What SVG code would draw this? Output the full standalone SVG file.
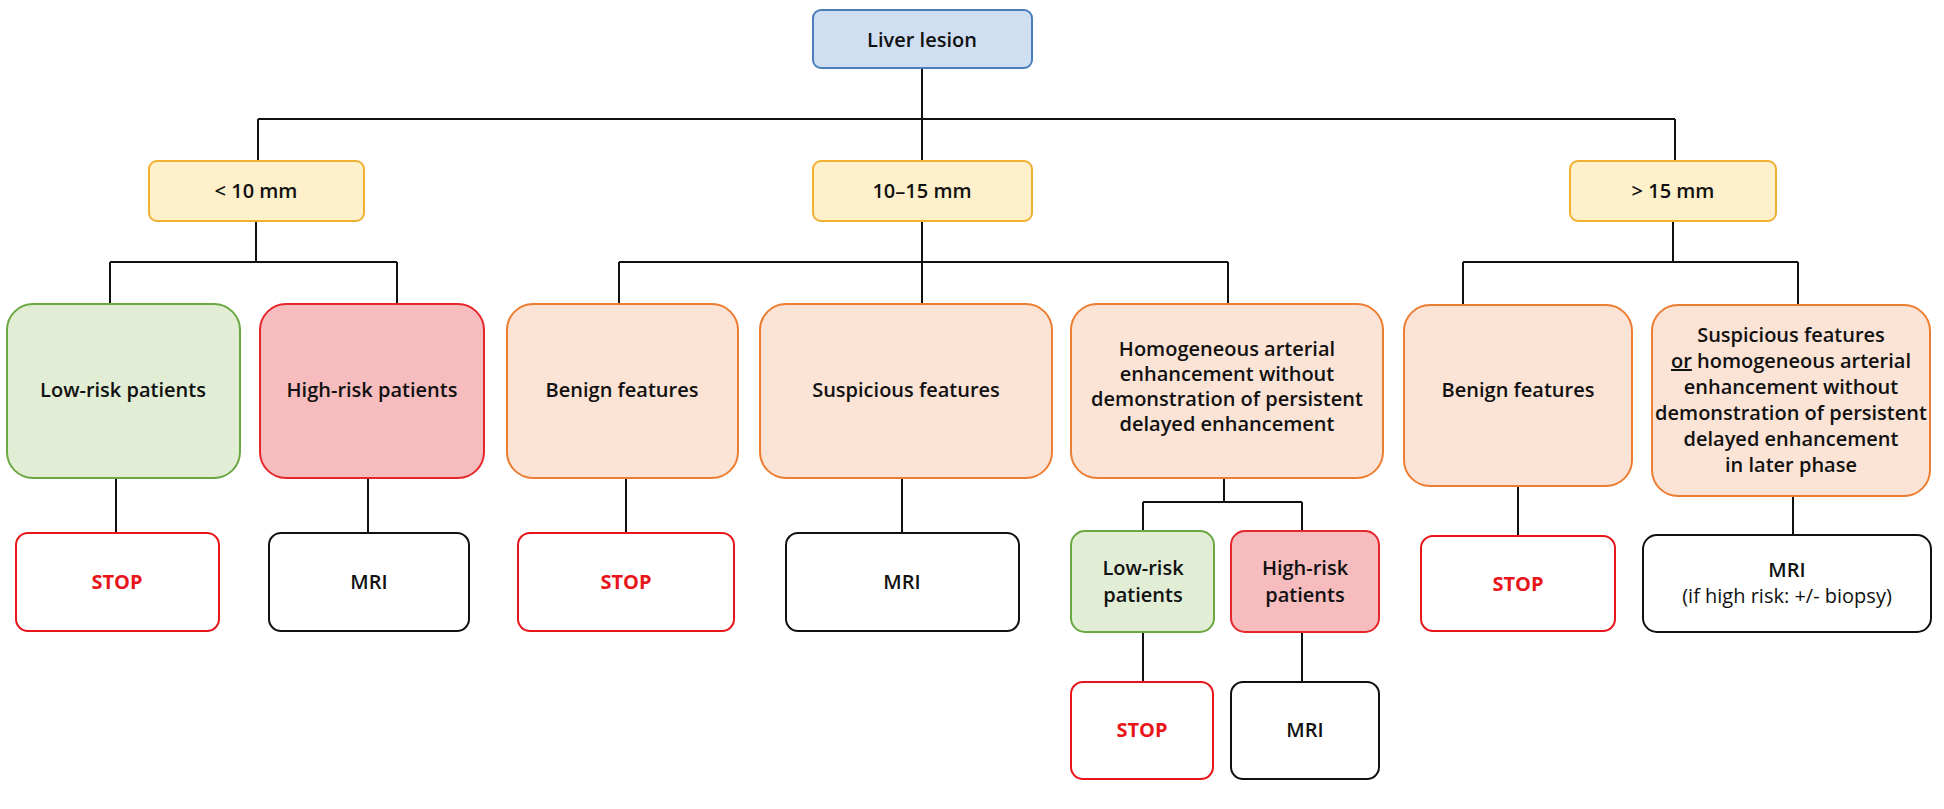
<svg xmlns="http://www.w3.org/2000/svg" width="1944" height="809" viewBox="0 0 1944 809">
<style>
text{font-family:"Open Sans","Liberation Sans",sans-serif;font-weight:600;font-size:20px;fill:#111;text-anchor:middle}
.blue{fill:#cfdff1;stroke:#4a7ebb;stroke-width:2}
.yel{fill:#fdf0cb;stroke:#f0b030;stroke-width:2}
.grn{fill:#e1edd5;stroke:#6aa842;stroke-width:2}
.red{fill:#f7bcbd;stroke:#e5262b;stroke-width:2}
.org{fill:#fbe4d6;stroke:#ed7d31;stroke-width:2}
.stop{fill:#fff;stroke:#e8151b;stroke-width:2}
.mri{fill:#fff;stroke:#111;stroke-width:2}
.st{fill:#e8151b;font-weight:700}
#c path{fill:none;stroke:#111;stroke-width:2}
</style>
<g id="c">
<path d="M922 68V161M258 119H1675M258 119V161M1675 119V161"/>
<path d="M256 221V262M110 262H397M110 262V304M397 262V304"/>
<path d="M922 221V304M619 262H1228M619 262V304M1228 262V304"/>
<path d="M1673 221V262M1463 262H1798M1463 262V305M1798 262V305"/>
<path d="M116 478V533M368 478V533M626 478V533M902 478V533"/>
<path d="M1224 478V502M1143 502H1302M1143 502V531M1302 502V531M1143 632V682M1302 632V682"/>
<path d="M1518 486V536M1793 496V535"/>
</g>
<g id="n0"><rect class="blue" x="813" y="10" width="219" height="58" rx="8"/><text x="922" y="47">Liver lesion</text></g>
<g id="n1"><rect class="yel" x="149" y="161" width="215" height="60" rx="8"/><text x="256" y="198">&lt; 10 mm</text></g>
<g id="n2"><rect class="yel" x="813" y="161" width="219" height="60" rx="8"/><text x="922" y="198">10–15 mm</text></g>
<g id="n3"><rect class="yel" x="1570" y="161" width="206" height="60" rx="8"/><text x="1673" y="198">&gt; 15 mm</text></g>
<g id="n4"><rect class="grn" x="7" y="304" width="233" height="174" rx="26"/><text x="123" y="397">Low-risk patients</text></g>
<g id="n5"><rect class="red" x="260" y="304" width="224" height="174" rx="26"/><text x="372" y="397">High-risk patients</text></g>
<g id="n6"><rect class="org" x="507" y="304" width="231" height="174" rx="26"/><text x="622" y="397">Benign features</text></g>
<g id="n7"><rect class="org" x="760" y="304" width="292" height="174" rx="26"/><text x="906" y="397">Suspicious features</text></g>
<g id="n8"><rect class="org" x="1071" y="304" width="312" height="174" rx="26"/><text x="1227" y="356" font-size="18">Homogeneous arterial</text><text x="1227" y="381" font-size="18">enhancement without</text><text x="1227" y="406" font-size="18">demonstration of persistent</text><text x="1227" y="431" font-size="18">delayed enhancement</text></g>
<g id="n9"><rect class="org" x="1404" y="305" width="228" height="181" rx="26"/><text x="1518" y="397">Benign features</text></g>
<g id="n10"><rect class="org" x="1652" y="305" width="278" height="191" rx="26"/><text x="1791" y="342" font-size="17">Suspicious features</text><text x="1791" y="368" font-size="17"><tspan text-decoration="underline">or</tspan> homogeneous arterial</text><text x="1791" y="394" font-size="17">enhancement without</text><text x="1791" y="420" font-size="17">demonstration of persistent</text><text x="1791" y="446" font-size="17">delayed enhancement</text><text x="1791" y="472" font-size="17">in later phase</text></g>
<g id="n11"><rect class="stop" x="16" y="533" width="203" height="98" rx="12"/><text class="st" x="117" y="589">STOP</text></g>
<g id="n12"><rect class="mri" x="269" y="533" width="200" height="98" rx="12"/><text x="369" y="589">MRI</text></g>
<g id="n13"><rect class="stop" x="518" y="533" width="216" height="98" rx="12"/><text class="st" x="626" y="589">STOP</text></g>
<g id="n14"><rect class="mri" x="786" y="533" width="233" height="98" rx="12"/><text x="902" y="589">MRI</text></g>
<g id="n15"><rect class="grn" x="1071" y="531" width="143" height="101" rx="14"/><text x="1143" y="575">Low-risk</text><text x="1143" y="602">patients</text></g>
<g id="n16"><rect class="red" x="1231" y="531" width="148" height="101" rx="14"/><text x="1305" y="575">High-risk</text><text x="1305" y="602">patients</text></g>
<g id="n17"><rect class="stop" x="1071" y="682" width="142" height="97" rx="12"/><text class="st" x="1142" y="737">STOP</text></g>
<g id="n18"><rect class="mri" x="1231" y="682" width="148" height="97" rx="12"/><text x="1305" y="737">MRI</text></g>
<g id="n19"><rect class="stop" x="1421" y="536" width="194" height="95" rx="12"/><text class="st" x="1518" y="591">STOP</text></g>
<g id="n20"><rect class="mri" x="1643" y="535" width="288" height="97" rx="14"/><text x="1787" y="577">MRI</text><text x="1787" y="603" style="font-weight:400">(if high risk: +/- biopsy)</text></g>
</svg>
